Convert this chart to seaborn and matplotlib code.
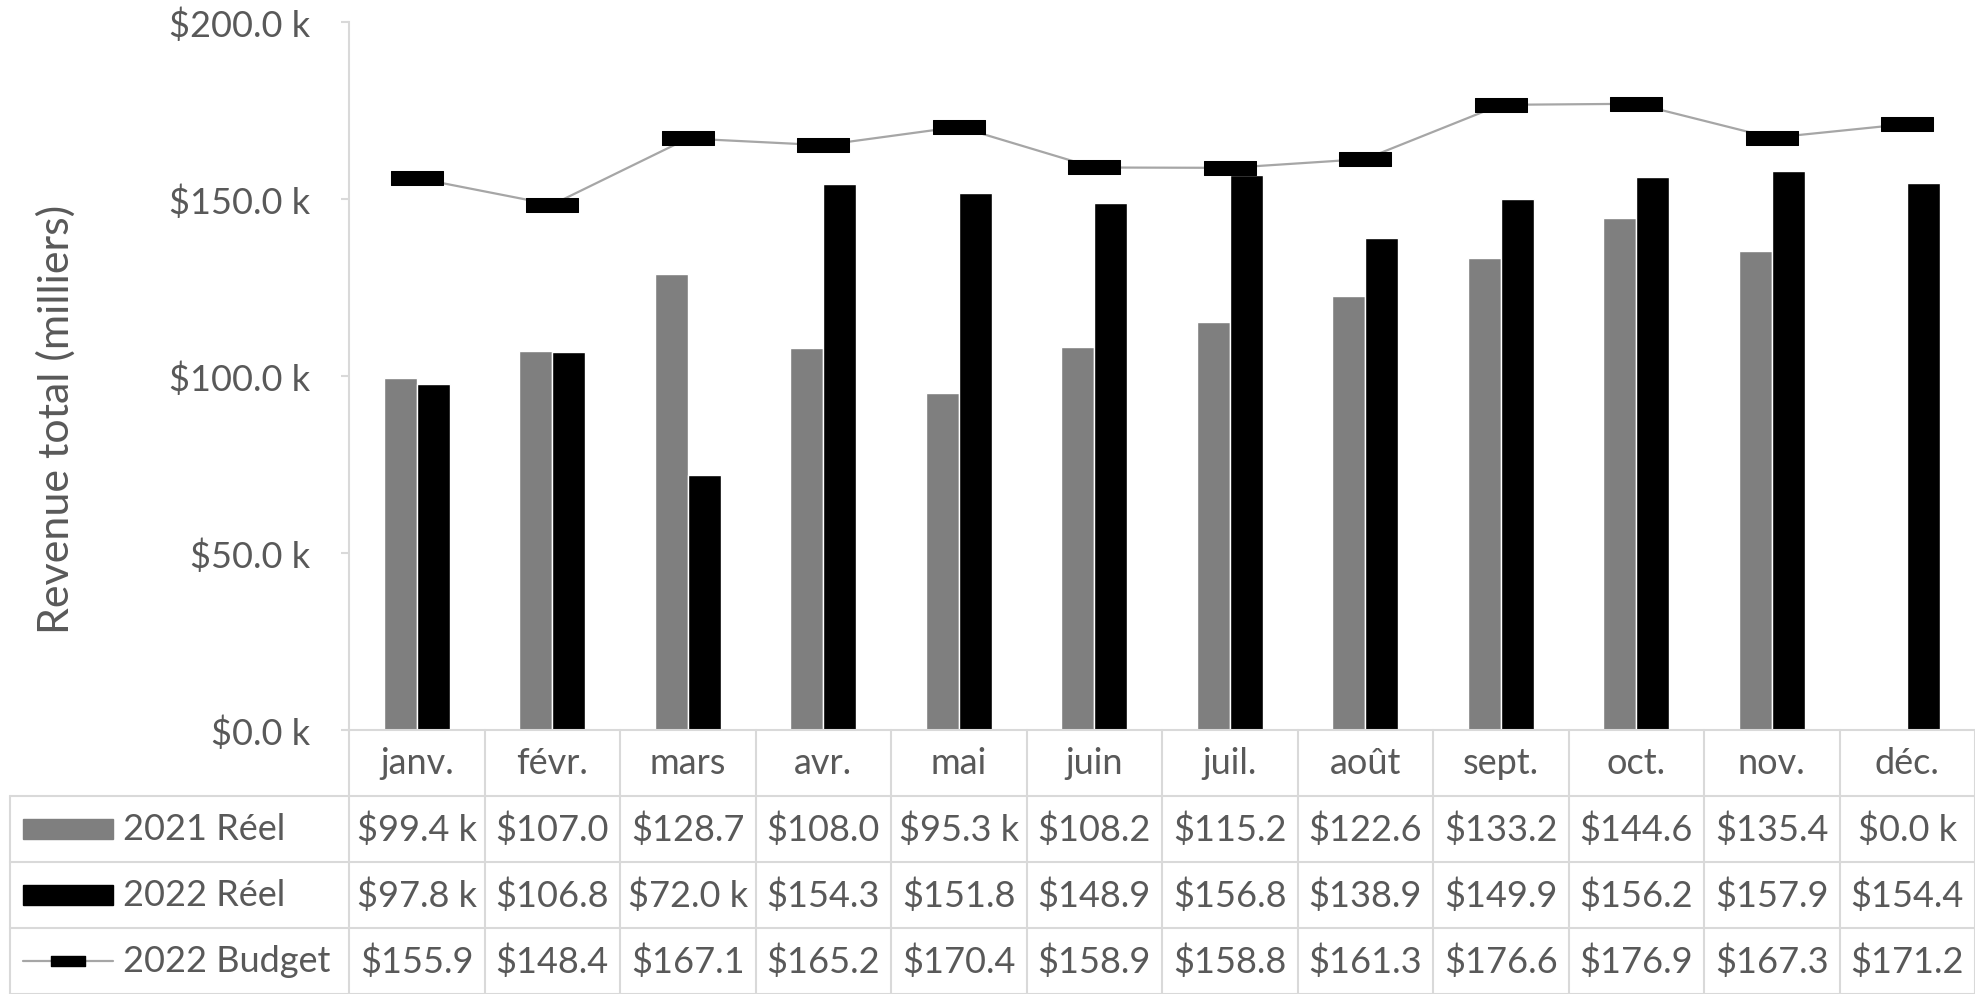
import matplotlib
matplotlib.use("Agg")
import matplotlib.pyplot as plt
from matplotlib.patches import Rectangle
from matplotlib.path import Path
from matplotlib.ticker import FuncFormatter
import seaborn as sns
import pandas as pd

sns.set_theme(style="white")
plt.rcParams["font.family"] = ["Lato", "DejaVu Sans"]

months = ["janv.", "févr.", "mars", "avr.", "mai", "juin",
          "juil.", "août", "sept.", "oct.", "nov.", "déc."]
reel_2021 = [99.4, 107.0, 128.7, 108.0, 95.3, 108.2, 115.2, 122.6, 133.2, 144.6, 135.4, 0.0]
reel_2022 = [97.8, 106.8, 72.0, 154.3, 151.8, 148.9, 156.8, 138.9, 149.9, 156.2, 157.9, 154.4]
budget_2022 = [155.9, 148.4, 167.1, 165.2, 170.4, 158.9, 158.8, 161.3, 176.6, 176.9, 167.3, 171.2]
series = ["2021 Réel", "2022 Réel", "2022 Budget"]
# texts as shown (truncated) in the data table
table_rows = [
    ["$99.4 k", "$107.0", "$128.7", "$108.0", "$95.3 k", "$108.2", "$115.2", "$122.6", "$133.2", "$144.6", "$135.4", "$0.0 k"],
    ["$97.8 k", "$106.8", "$72.0 k", "$154.3", "$151.8", "$148.9", "$156.8", "$138.9", "$149.9", "$156.2", "$157.9", "$154.4"],
    ["$155.9", "$148.4", "$167.1", "$165.2", "$170.4", "$158.9", "$158.8", "$161.3", "$176.6", "$176.9", "$167.3", "$171.2"],
]

TXT = "#595959"
GRID = "#d9d9d9"
FS = 26

df = pd.DataFrame({
    "mois": months * 2,
    "serie": [series[0]] * 12 + [series[1]] * 12,
    "valeur": reel_2021 + reel_2022,
})

fig = plt.figure(figsize=(19.75, 9.95), dpi=100)
ax = fig.add_axes([349 / 1975, 264 / 995, 1626 / 1975, 708 / 995])

sns.barplot(data=df, x="mois", y="valeur", hue="serie", hue_order=series[:2],
            palette=["#7f7f7f", "#000000"], saturation=1, width=0.49,
            errorbar=None, legend=False, ax=ax)

rect = Path([(-1, -0.27), (1, -0.27), (1, 0.27), (-1, 0.27), (-1, -0.27)],
            [Path.MOVETO, Path.LINETO, Path.LINETO, Path.LINETO, Path.CLOSEPOLY])
sns.lineplot(x=months, y=budget_2022, sort=False, color="#a6a6a6", lw=1.6,
             marker=rect, markersize=37, markerfacecolor="black",
             markeredgecolor="black", zorder=3, ax=ax)

ax.set_xlim(-0.5, 11.5)
ax.set_ylim(0, 200)
ax.set_yticks([0, 50, 100, 150, 200])
ax.yaxis.set_major_formatter(FuncFormatter(lambda v, p: f"${v:.1f} k"))
ax.tick_params(axis="y", left=True, length=6, width=1.5, color=GRID,
               labelsize=FS, labelcolor=TXT, pad=22)
ax.tick_params(axis="x", bottom=False, labelbottom=False)
ax.set_xlabel("")
ax.set_ylabel("Revenue total (milliers)", fontsize=31, color=TXT)
ax.yaxis.set_label_coords(-0.168, 0.44)
for s in ["top", "right"]:
    ax.spines[s].set_visible(False)
for s in ["left", "bottom"]:
    ax.spines[s].set_color(GRID)
    ax.spines[s].set_linewidth(1.5)

# data table under the chart
tab = fig.add_axes([0, 0, 1, 264 / 995])
x0 = -0.5 - 349 / 135.5
tab.set_xlim(x0, 11.5)
tab.set_ylim(0, 4)
tab.axis("off")
left = x0 + 10 / 135.5
for k in range(13):
    tab.plot([k - 0.5, k - 0.5], [0, 4], color=GRID, lw=1.5, clip_on=False)
tab.plot([left, left], [0, 3], color=GRID, lw=1.5, clip_on=False)
for y in [0, 1, 2, 3]:
    tab.plot([left, 11.5], [y, y], color=GRID, lw=1.5, clip_on=False)

for i, m in enumerate(months):
    tab.text(i, 3.5, m, ha="center", va="center", fontsize=FS, color=TXT)
for r, row in enumerate(table_rows):
    yc = 2.5 - r
    for i, t in enumerate(row):
        tab.text(i, yc, t, ha="center", va="center", fontsize=FS, color=TXT)
    tab.text(x0 + 123 / 135.5, yc, series[r], ha="left", va="center",
             fontsize=FS, color=TXT)

sx0, sx1 = x0 + 23 / 135.5, x0 + 113 / 135.5
tab.add_patch(Rectangle((sx0, 2.35), sx1 - sx0, 0.3, color="#7f7f7f"))
tab.add_patch(Rectangle((sx0, 1.35), sx1 - sx0, 0.3, color="#000000"))
tab.plot([sx0, sx1], [0.5, 0.5], color="#a6a6a6", lw=1.6)
tab.plot([(sx0 + sx1) / 2], [0.5], marker=rect, markersize=24,
         color="black")

fig.savefig("out.png", dpi=100)
